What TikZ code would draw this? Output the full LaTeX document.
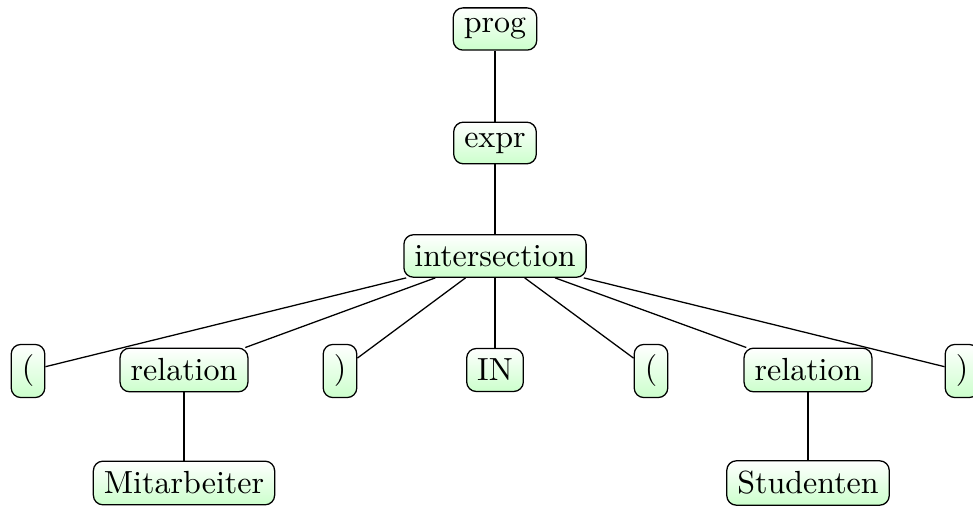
\documentclass[tikz,border=0pt]{standalone}
\usepackage{amsmath,amssymb}
\tikzset{
  treenode/.style={draw,rounded corners=3pt,top color=white,bottom color=green!20,inner sep=3.3pt},
}
\begin{document}
\begin{tikzpicture}[x=0.01098cm,y=-0.01098cm]
 \useasboundingbox (0,0) rectangle (973,507);
	\node[treenode] (prog) at (495,29) {prog};
	\node[treenode] (expr) at (495,143) {expr};
	\node[treenode] (inter) at (495,256) {intersection};
	% leaves of the intersection
	\node[treenode] (lpA) at (28,371) {(};
	\node[treenode] (relA) at (184,370) {relation};
	\node[treenode] (rpA) at (340,371) {)};
	\node[treenode] (in) at (495,370) {IN};
	\node[treenode] (lpB) at (651,371) {(};
	\node[treenode] (relB) at (808,370) {relation};
	\node[treenode] (rpB) at (962,371) {)};
	\node[treenode] (mit) at (184,483) {Mitarbeiter};
	\node[treenode] (stud) at (808,483) {Studenten};
	\draw (prog) -- (expr);
	\draw (expr) -- (inter);
	\foreach \n in {lpA,relA,rpA,in,lpB,relB,rpB} \draw (inter) -- (\n);
	\draw (relA) -- (mit);
	\draw (relB) -- (stud);
\end{tikzpicture}
\end{document}
